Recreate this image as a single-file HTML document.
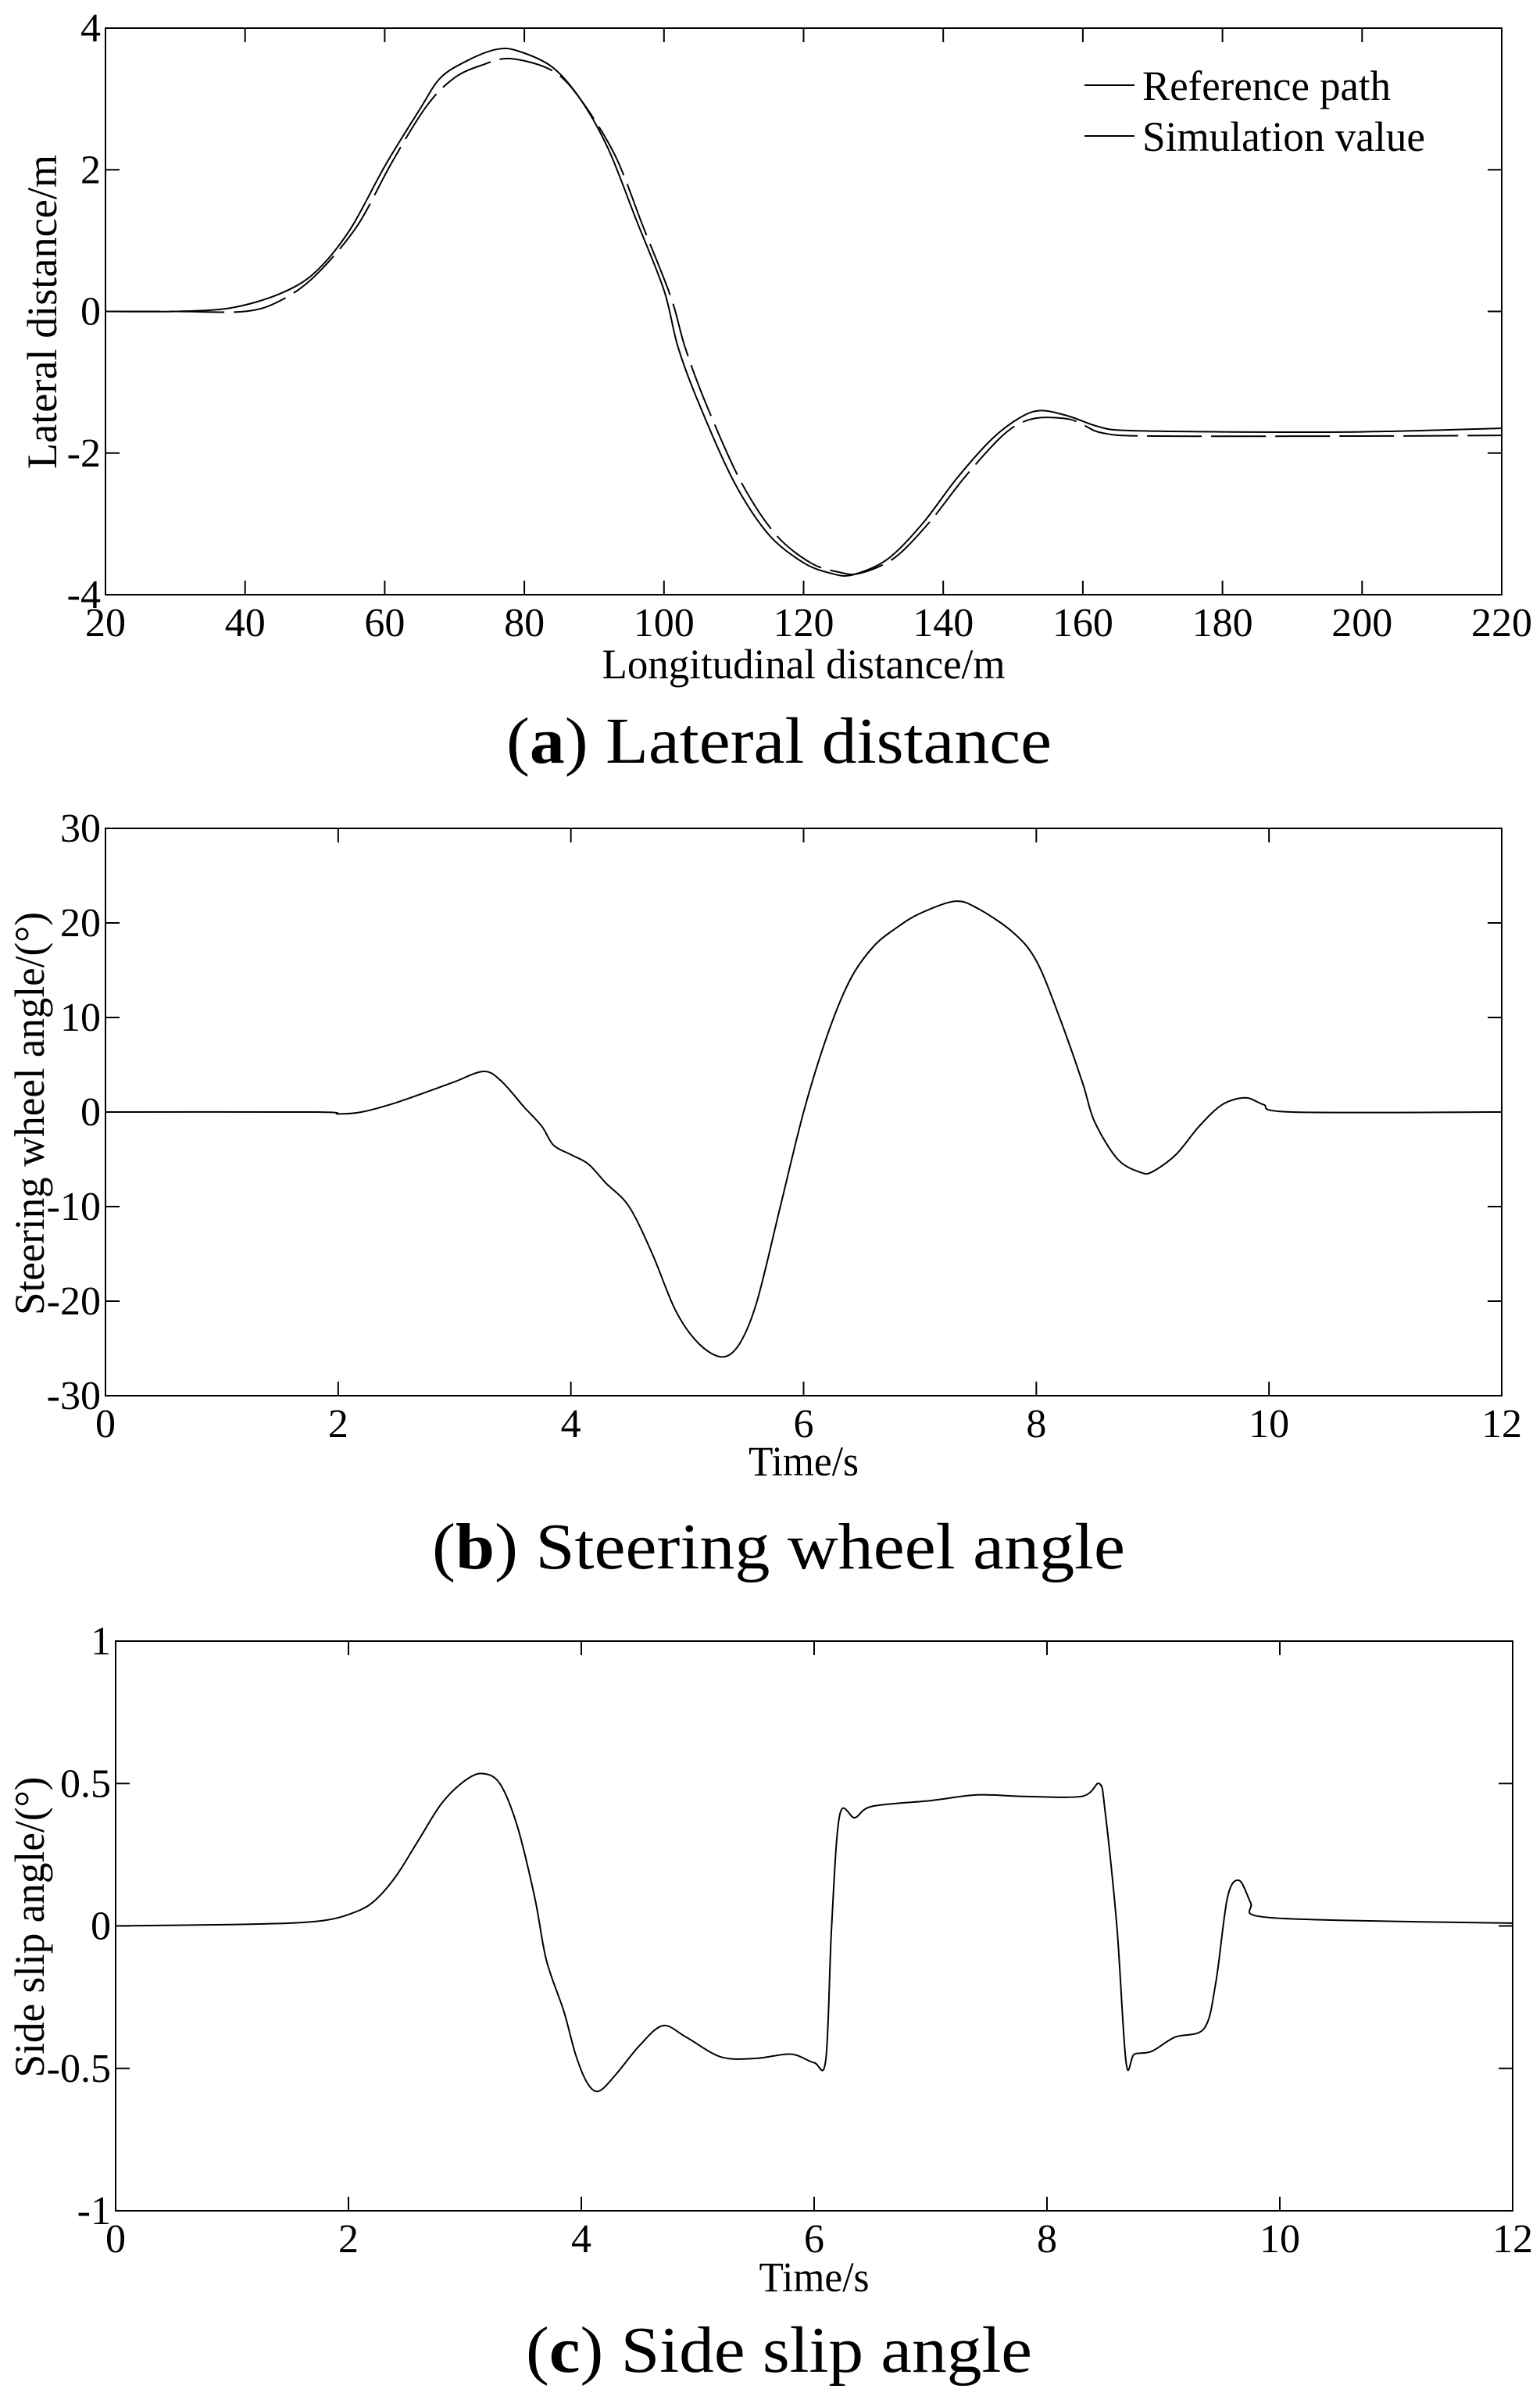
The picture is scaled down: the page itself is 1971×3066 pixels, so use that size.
<!DOCTYPE html>
<html><head><meta charset="utf-8"><style>
html,body{margin:0;padding:0;background:#fff;}
svg{display:block;font-family:"Liberation Serif",serif;}
</style></head><body>
<svg id="fig" width="1971" height="3066" viewBox="0 0 1971 3066" xmlns="http://www.w3.org/2000/svg"></svg>
<script>
// ---- Chart (a) data ----
const aXTicks = [20,40,60,80,100,120,140,160,180,200,220];
const aYTicks = [-4,-2,0,2,4];
const aRefX = [20,30,38,45,50,55,60,65,68,72,76,79,84,88,92,96,100,102,105,110,115,120,124,127,132,137,142,147,151,154,158,162,166,180,200,220];
const aRefY = [0,0,0.05,0.25,0.55,1.15,2.05,2.85,3.3,3.55,3.7,3.68,3.45,3.0,2.3,1.3,0.3,-0.5,-1.3,-2.4,-3.15,-3.55,-3.7,-3.72,-3.5,-3.0,-2.35,-1.8,-1.5,-1.4,-1.48,-1.62,-1.68,-1.7,-1.7,-1.65];
const aSimX = [20,30,40,45,50,56,61,66,70,74,78,84,88,93,97,101,103,106,111,116,121,125,128,133,138,143,148,151,154,158,160,163,170,200,220];
const aSimY = [0,0,0,0.15,0.5,1.2,2.1,2.9,3.3,3.48,3.57,3.4,3.0,2.2,1.2,0.2,-0.5,-1.3,-2.4,-3.15,-3.55,-3.68,-3.7,-3.48,-2.98,-2.35,-1.8,-1.58,-1.5,-1.52,-1.6,-1.72,-1.76,-1.76,-1.75];
// ---- Chart (b) data ----
const bXTicks = [0,2,4,6,8,10,12];
const bYTicks = [-30,-20,-10,0,10,20,30];
const bX = [0,1.8,2.0,2.2,2.5,2.8,3.0,3.25,3.4,3.6,3.75,3.85,4.0,4.15,4.3,4.5,4.7,4.9,5.1,5.3,5.45,5.6,5.8,6.0,6.2,6.4,6.6,6.8,7.0,7.3,7.5,7.8,8.0,8.2,8.4,8.5,8.7,8.9,9.0,9.2,9.4,9.6,9.8,9.95,10.2,12];
const bY = [0,0,-0.2,0,1,2.3,3.2,4.3,3.3,0.5,-1.5,-3.5,-4.5,-5.5,-7.5,-10,-15,-21,-24.5,-25.9,-24.5,-20,-10,0,8,14,17.5,19.5,21,22.3,21.5,19,16,10,3,-1,-5,-6.4,-6.3,-4.5,-1.5,0.8,1.5,0.8,0,0];
// ---- Chart (c) data ----
const cXTicks = [0,2,4,6,8,10,12];
const cYTicks = [-1,-0.5,0,0.5,1];
const cX = [0,1,1.5,1.8,2.0,2.2,2.4,2.6,2.8,3.0,3.15,3.3,3.45,3.6,3.7,3.85,3.95,4.05,4.15,4.3,4.5,4.7,4.9,5.2,5.5,5.8,6.0,6.1,6.15,6.22,6.35,6.5,7.0,7.4,7.8,8.3,8.45,8.5,8.6,8.68,8.75,8.9,9.1,9.35,9.45,9.55,9.65,9.75,9.8,10.5,12];
const cY = [0,0.005,0.01,0.02,0.04,0.08,0.17,0.3,0.43,0.51,0.535,0.5,0.35,0.1,-0.12,-0.3,-0.45,-0.55,-0.58,-0.52,-0.42,-0.35,-0.39,-0.46,-0.465,-0.45,-0.48,-0.47,0,0.39,0.38,0.42,0.44,0.46,0.455,0.455,0.5,0.4,0,-0.48,-0.45,-0.44,-0.39,-0.36,-0.2,0.1,0.16,0.08,0.035,0.02,0.01];

const NS = "http://www.w3.org/2000/svg";
const svg = document.getElementById('fig');
function mk(tag, attrs, parent, text){
  const e = document.createElementNS(NS, tag);
  for (const k in attrs) e.setAttribute(k, attrs[k]);
  if (text !== undefined) e.textContent = text;
  (parent || svg).appendChild(e);
  return e;
}
function lin(d0,d1,r0,r1){ return v => r0 + (v-d0)/(d1-d0)*(r1-r0); }
function smooth(pts){
  let d = 'M' + pts[0][0].toFixed(1) + ' ' + pts[0][1].toFixed(1);
  const t = 0.16;
  for (let i = 0; i < pts.length-1; i++){
    const p0 = pts[Math.max(0,i-1)], p1 = pts[i], p2 = pts[i+1], p3 = pts[Math.min(pts.length-1,i+2)];
    const c1x = p1[0] + (p2[0]-p0[0])*t, c1y = p1[1] + (p2[1]-p0[1])*t;
    const c2x = p2[0] - (p3[0]-p1[0])*t, c2y = p2[1] - (p3[1]-p1[1])*t;
    d += ' C' + c1x.toFixed(1)+' '+c1y.toFixed(1)+' '+c2x.toFixed(1)+' '+c2y.toFixed(1)+' '+p2[0].toFixed(1)+' '+p2[1].toFixed(1);
  }
  return d;
}

function drawChart(cfg){
  const g = mk('g', {});
  
  
  const sx = lin(cfg.xd[0], cfg.xd[1], cfg.L, cfg.R);
  const sy = lin(cfg.yd[0], cfg.yd[1], cfg.B, cfg.T);
  const frame = mk('rect', {x:cfg.L, y:cfg.T, width:cfg.R-cfg.L, height:cfg.B-cfg.T, fill:'none', stroke:'#000', 'stroke-width':2}, g);
  
  
  const tl = 18;
  cfg.xt.forEach(v => {
    const x = sx(v);
    const t1 = mk('line', {x1:x, x2:x, y1:cfg.B, y2:cfg.B-tl, stroke:'#000', 'stroke-width':2}, g);
    
    
    mk('line', {x1:x, x2:x, y1:cfg.T, y2:cfg.T+tl, stroke:'#000', 'stroke-width':2}, g);
    const lb = mk('text', {x:x, y:cfg.B+53, 'font-size':52, 'text-anchor':'middle'}, g, String(v));
    
    
  });
  cfg.yt.forEach(v => {
    const y = sy(v);
    const t1 = mk('line', {x1:cfg.L, x2:cfg.L+tl, y1:y, y2:y, stroke:'#000', 'stroke-width':2}, g);
    
    
    mk('line', {x1:cfg.R, x2:cfg.R-tl, y1:y, y2:y, stroke:'#000', 'stroke-width':2}, g);
    const lb = mk('text', {x:cfg.L-6, y:y+17, 'font-size':52, 'text-anchor':'end'}, g, String(v));
    
    
  });
  cfg.series.forEach(s => {
    const pts = s.x.map((v,i) => [sx(v), sy(s.y[i])]);
    const p = mk('path', {d:smooth(pts), fill:'none', stroke:'#000', 'stroke-width':2, 'stroke-linejoin':'round'}, g);
    if (s.dash) p.setAttribute('stroke-dasharray', s.dash);
    
    
  });
  const xl = mk('text', {x:(cfg.L+cfg.R)/2, y:cfg.xlY, 'font-size':54, 'text-anchor':'middle', textLength:cfg.xlW, lengthAdjust:'spacingAndGlyphs'}, g, cfg.xlabel);
  
  
  const yl = mk('text', {x:0, y:0, 'font-size':54, 'text-anchor':'middle', textLength:cfg.ylW, lengthAdjust:'spacingAndGlyphs', transform:'translate('+(cfg.ylX)+','+cfg.ylC+') rotate(-90)'}, g, cfg.ylabel);
  
  
  const cap = mk('text', {x:cfg.capX, y:cfg.capY, 'font-size':84, textLength:cfg.capW, lengthAdjust:'spacingAndGlyphs'}, g);
  
  
  mk('tspan', {}, cap, '(');
  mk('tspan', {'font-weight':'bold'}, cap, cfg.letter);
  mk('tspan', {}, cap, ') ' + cfg.caption);
  return {g, sx, sy};
}

drawChart({name:'chart-lateral-distance', L:135, R:1922, T:36, B:761, xd:[20,220], yd:[-4,4], xt:aXTicks, yt:aYTicks,
  series:[{name:'reference-path-line', x:aRefX, y:aRefY}, {name:'simulation-value-line', x:aSimX, y:aSimY, dash:'70 12'}],
  xlabel:'Longitudinal distance/m', xlY:868, xlW:516, ylabel:'Lateral distance/m', ylX:72, ylC:399, ylW:402,
  letter:'a', caption:'Lateral distance', capX:648, capY:976, capW:698});
// legend
const leg = mk('g', {});


[['Reference path',128,318],['Simulation value',193,362]].forEach((r,i) => {
  const ln = mk('line', {x1:1388, x2:1452, y1:r[1]-19, y2:r[1]-19, stroke:'#000', 'stroke-width':2}, leg);
  
  
  const t = mk('text', {x:1462, y:r[1], 'font-size':54, textLength:r[2], lengthAdjust:'spacingAndGlyphs'}, leg, r[0]);
  
  
});

drawChart({name:'chart-steering-wheel-angle', L:135, R:1922, T:1060, B:1786, xd:[0,12], yd:[-30,30], xt:bXTicks, yt:bYTicks,
  series:[{name:'steering-angle-line', x:bX, y:bY}],
  xlabel:'Time/s', xlY:1888, xlW:141, ylabel:'Steering wheel angle/(°)', ylX:56, ylC:1425, ylW:516,
  letter:'b', caption:'Steering wheel angle', capX:553, capY:2007, capW:887});

drawChart({name:'chart-side-slip-angle', L:148, R:1936, T:2100, B:2829, xd:[0,12], yd:[-1,1], xt:cXTicks, yt:cYTicks,
  series:[{name:'side-slip-line', x:cX, y:cY}],
  xlabel:'Time/s', xlY:2932, xlW:141, ylabel:'Side slip angle/(°)', ylX:56, ylC:2466, ylW:385,
  letter:'c', caption:'Side slip angle', capX:673, capY:3035, capW:648});
</script>
</body></html>
